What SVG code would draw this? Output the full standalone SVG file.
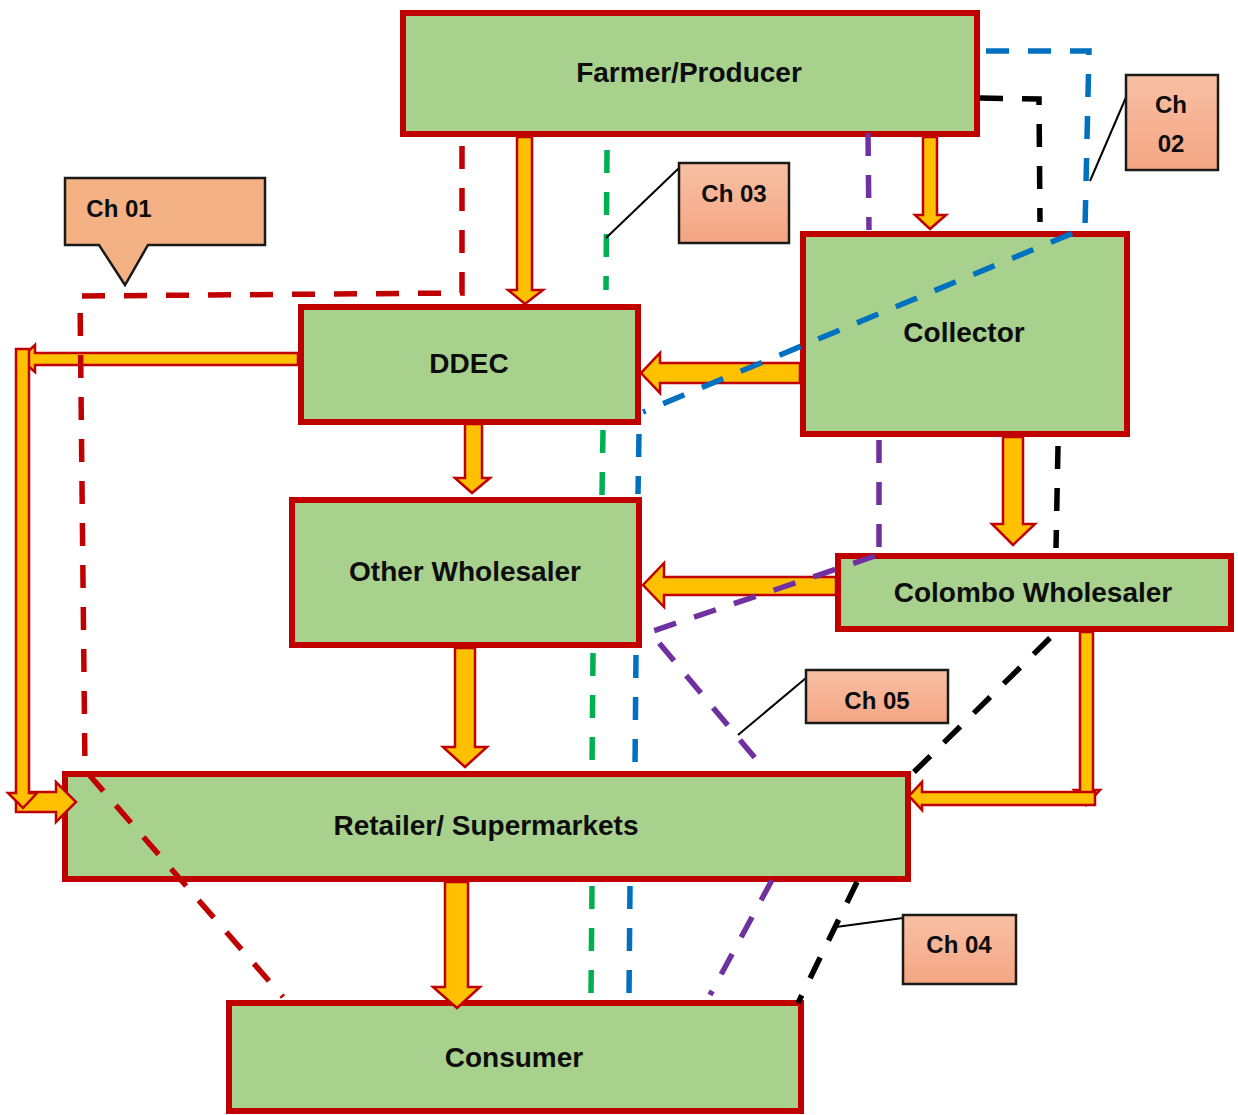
<svg xmlns="http://www.w3.org/2000/svg" width="1238" height="1115" viewBox="0 0 1238 1115">
  <defs>
    <linearGradient id="tagFill" x1="0" y1="0" x2="0" y2="1">
      <stop offset="0" stop-color="#F8C0A4"/>
      <stop offset="1" stop-color="#F4A583"/>
    </linearGradient>
    <style>
      .node { fill: #A9D18E; stroke: #C00000; stroke-width: 6; }
      .label { font-family: "Liberation Sans", Arial, sans-serif; font-weight: bold; font-size: 28px; fill: #0d0d0d; text-anchor: middle; }
      .tag { fill: url(#tagFill); stroke: #1a1a1a; stroke-width: 2.5; }
      .tagtext { font-family: "Liberation Sans", Arial, sans-serif; font-weight: bold; font-size: 24px; fill: #0d0d0d; text-anchor: middle; }
      .leader { fill: none; stroke: #000; stroke-width: 2; }
      .flow { fill: #FFC000; stroke: #C00000; stroke-width: 2.5; stroke-linejoin: miter; }
      .dash { fill: none; stroke-width: 5.5; stroke-dasharray: 23 19; }
      .ch01 { stroke: #C00000; }
      .ch02 { stroke: #0070C0; }
      .ch03 { stroke: #00B050; }
      .ch04 { stroke: #000000; }
      .ch05 { stroke: #7030A0; }
    </style>
  </defs>

  <rect width="1238" height="1115" fill="#ffffff"/>

  <!-- supply chain actors -->
  <g id="farmer">
    <rect class="node" x="403" y="13" width="574" height="121"/>
    <text class="label" x="689" y="82">Farmer/Producer</text>
  </g>
  <g id="ddec">
    <rect class="node" x="301" y="307" width="337" height="115"/>
    <text class="label" x="469" y="373">DDEC</text>
  </g>
  <g id="collector">
    <rect class="node" x="803" y="234" width="324" height="200"/>
    <text class="label" x="964" y="342">Collector</text>
  </g>
  <g id="other-wholesaler">
    <rect class="node" x="292" y="500" width="347" height="145"/>
    <text class="label" x="465" y="581">Other Wholesaler</text>
  </g>
  <g id="colombo-wholesaler">
    <rect class="node" x="838" y="556" width="393" height="73"/>
    <text class="label" x="1033" y="602">Colombo Wholesaler</text>
  </g>
  <g id="retailer">
    <rect class="node" x="65" y="774" width="843" height="105"/>
    <text class="label" x="486" y="835">Retailer/ Supermarkets</text>
  </g>
  <g id="consumer">
    <rect class="node" x="229" y="1003" width="572" height="108"/>
    <text class="label" x="514" y="1067">Consumer</text>
  </g>

  <!-- product flows and channel routes -->
  <g id="connectors">
    <!-- block arrows (product flow) -->
    <polygon class="flow" points="517,137 532,137 532,290 543,290 525,304 508,290 517,290"/>
    <polygon class="flow" points="923,137 937,137 937,215 946,215 930,229 915,215 923,215"/>
    <polygon class="flow" points="800,363 800,383 660,383 660,393 641,373 660,353 660,363"/>
    <polygon class="flow" points="465,424 482,424 482,478 490,478 472,493 455,478 465,478"/>
    <polygon class="flow" points="1003,437 1023,437 1023,524 1035,524 1013,545 992,524 1003,524"/>
    <polygon class="flow" points="836,577 836,595 664,595 664,607 643,585 664,563 664,577"/>
    <polygon class="flow" points="455,648 475,648 475,747 487,747 465,767 443,747 455,747"/>
    <polygon class="flow" points="445,882 468,882 468,987 480,987 457,1008 433,987 445,987"/>
    <!-- DDEC to retailer, routed down the left side -->
    <polygon class="flow" points="298,353 298,365 35,365 35,372 20,359 35,345 35,353"/>
    <polygon class="flow" points="16,792 56,792 56,782 76,802 56,822 56,812 16,812"/>
    <polygon class="flow" points="16,349 29,349 29,793 37,793 23,808 8,793 16,793"/>
    <!-- Colombo wholesaler to retailer, routed down the right side -->
    <polygon class="flow" points="1080,632 1093,632 1093,790 1100,790 1086,805 1074,790 1080,790"/>
    <polygon class="flow" points="1095,792 1095,805 922,805 922,810 909,796 922,782 922,792"/>

    <!-- Ch 01 -->
    <path class="dash ch01" d="M462,146 L462,293 L80,296 L85,770 L283,997"/>
    <!-- Ch 02 -->
    <path class="dash ch02" d="M986,51 L1089,51 L1085,228 L643,412"/>
    <path class="dash ch02" d="M639,434 L638,494 M636,655 L635,768 M630,886 L629,997"/>
    <!-- Ch 03 -->
    <path class="dash ch03" d="M607,150 L606,290 M603,430 L602,495 M593,653 L592,768 M592,886 L591,997"/>
    <!-- Ch 04 -->
    <path class="dash ch04" d="M980,98 L1039,99 L1040,222 M1058,446 L1056,548 M1050,638 L910,776 M857,882 L798,1003"/>
    <!-- Ch 05 -->
    <path class="dash ch05" d="M868,133 L869,230 M879,440 L879,547 M875,556 L650,632 L765,770 M772,880 L710,995"/>
  </g>

  <!-- channel tags -->
  <g id="tag-ch01">
    <path class="tag" d="M65,178 L265,178 L265,245 L148,245 L125,285 L99,245 L65,245 Z" style="fill:#F4B183"/>
    <text class="tagtext" x="119" y="217">Ch 01</text>
  </g>
  <g id="tag-ch02">
    <line class="leader" x1="1090" y1="181" x2="1127" y2="95"/>
    <rect class="tag" x="1126" y="75" width="92" height="95"/>
    <text class="tagtext" x="1171" y="113">Ch</text>
    <text class="tagtext" x="1171" y="152">02</text>
  </g>
  <g id="tag-ch03">
    <line class="leader" x1="606" y1="238" x2="679" y2="168"/>
    <rect class="tag" x="679" y="163" width="110" height="80"/>
    <text class="tagtext" x="734" y="202">Ch 03</text>
  </g>
  <g id="tag-ch04">
    <line class="leader" x1="836" y1="927" x2="903" y2="918"/>
    <rect class="tag" x="903" y="915" width="113" height="69"/>
    <text class="tagtext" x="959" y="953">Ch 04</text>
  </g>
  <g id="tag-ch05">
    <line class="leader" x1="738" y1="735" x2="806" y2="678"/>
    <rect class="tag" x="806" y="670" width="142" height="53"/>
    <text class="tagtext" x="877" y="709">Ch 05</text>
  </g>
</svg>
